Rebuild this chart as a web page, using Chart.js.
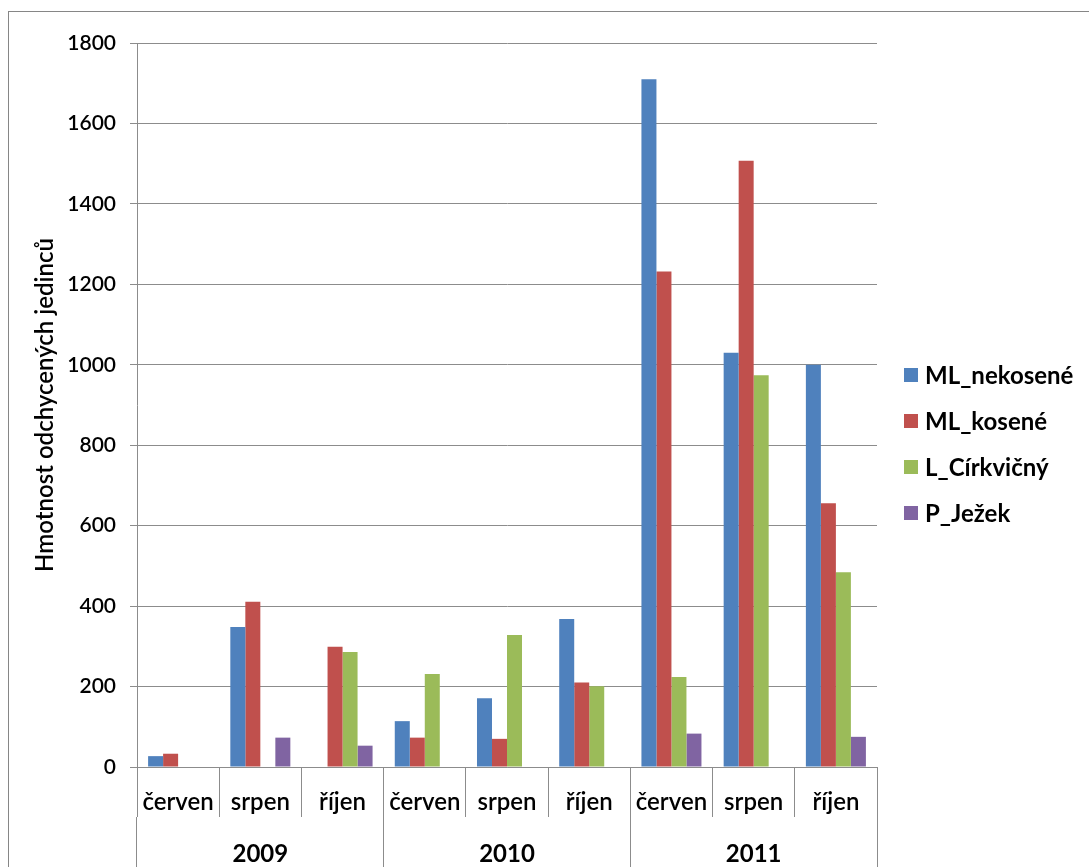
<!DOCTYPE html>
<html lang="cs">
<head>
<meta charset="utf-8">
<title>Hmotnost odchycených jedinců</title>
<script src="https://cdn.jsdelivr.net/npm/chart.js@4/dist/chart.umd.min.js"></script>
<style>
  html, body { margin: 0; padding: 0; background: #fff; }
  #wrap { width: 1089px; height: 867px; position: relative; }
</style>
</head>
<body>
<div id="wrap"><canvas id="c" width="1089" height="867"></canvas></div>
<script>
// Months sampled in each season and the seasons themselves
const months = ['červen', 'srpen', 'říjen', 'červen', 'srpen', 'říjen', 'červen', 'srpen', 'říjen'];
const years = ['2009', '2010', '2011'];

// Biomass of captured individuals per site
const mlNekosene = [27, 348, null, 114, 171, 368, 1710, 1030, 1000];
const mlKosene   = [33, 411, 299, 73, 70, 210, 1232, 1507, 656];
const lCirkvicny = [null, null, 286, 231, 328, 201, 224, 974, 484];
const pJezek     = [null, 73, 53, null, null, null, 83, null, 75];

const seriesNames = ['ML_nekosené', 'ML_kosené', 'L_Církvičný', 'P_Ježek'];
const seriesColors = ['#4F81BD', '#C0504D', '#9BBB59', '#8064A2'];

const yTicks = { min: 0, max: 1800, step: 200 };
const yTitle = 'Hmotnost odchycených jedinců';

const FONT = 'Lato, "Open Sans", "DejaVu Sans", sans-serif';
const GRID = '#8c8c8c';

const seriesValues = [mlNekosene, mlKosene, lCirkvicny, pJezek];

// Outer frame around the whole chart
const framePlugin = {
  id: 'frame',
  beforeDraw(chart) {
    const ctx = chart.ctx;
    ctx.save();
    ctx.fillStyle = '#fff';
    ctx.fillRect(0, 0, chart.width, chart.height);
    ctx.strokeStyle = '#868686';
    ctx.lineWidth = 1;
    ctx.strokeRect(8.5, 11.5, chart.width + 20, chart.height + 20);
    ctx.restore();
  }
};

// Legend on the right, built from the datasets
const sideLegend = {
  id: 'sideLegend',
  afterDraw(chart) {
    const ctx = chart.ctx;
    ctx.save();
    ctx.font = 'bold 24px ' + FONT;
    ctx.textBaseline = 'middle';
    ctx.textAlign = 'left';
    chart.data.datasets.forEach((ds, i) => {
      const y = 375 + i * 46;
      ctx.fillStyle = ds.backgroundColor;
      ctx.fillRect(904, y - 7, 14, 14);
      ctx.fillStyle = '#000';
      ctx.fillText(ds.label, 925, y + 1);
    });
    ctx.restore();
  }
};

new Chart(document.getElementById('c'), {
  type: 'bar',
  data: {
    labels: months,
    datasets: seriesNames.map((name, i) => ({
      label: name,
      data: seriesValues[i],
      backgroundColor: seriesColors[i],
      borderWidth: 0,
      categoryPercentage: 0.73,
      barPercentage: 1.0
    }))
  },
  options: {
    responsive: false,
    animation: false,
    devicePixelRatio: 1,
    layout: { padding: { top: 43, right: 212, bottom: 0, left: 30 } },
    plugins: {
      legend: { display: false },
      tooltip: { enabled: false }
    },
    scales: {
      y: {
        min: yTicks.min,
        max: yTicks.max,
        ticks: {
          stepSize: yTicks.step,
          color: '#000',
          padding: 14,
          callback: (v) => String(v),
          font: { family: FONT, size: 21, weight: 600 }
        },
        grid: { color: GRID, lineWidth: 1, tickLength: 7 },
        border: { color: GRID },
        title: {
          display: true,
          text: yTitle,
          color: '#000',
          padding: { top: 1, bottom: 0 },
          font: { family: FONT, size: 24, weight: 600 }
        },
        afterFit(scale) { scale.width = 107; }
      },
      x: {
        type: 'category',
        position: 'bottom',
        weight: 0,
        offset: true,
        ticks: {
          color: '#000',
          autoSkip: false,
          maxRotation: 0,
          minRotation: 0,
          padding: -29,
          font: { family: FONT, size: 24, weight: 600 }
        },
        grid: { offset: true, drawOnChartArea: false, drawTicks: true, tickLength: 50, color: GRID },
        border: { color: GRID },
        afterFit(scale) { scale.height = 50; }
      },
      x2: {
        type: 'category',
        position: 'bottom',
        weight: 1,
        labels: years,
        offset: true,
        ticks: {
          color: '#000',
          autoSkip: false,
          maxRotation: 0,
          minRotation: 0,
          padding: -27,
          font: { family: FONT, size: 24, weight: 'bold' }
        },
        grid: { offset: true, drawOnChartArea: false, drawTicks: true, tickLength: 50, color: GRID },
        border: { display: false },
        afterFit(scale) { scale.height = 50; }
      }
    }
  },
  plugins: [framePlugin, sideLegend]
});
</script>
</body>
</html>
